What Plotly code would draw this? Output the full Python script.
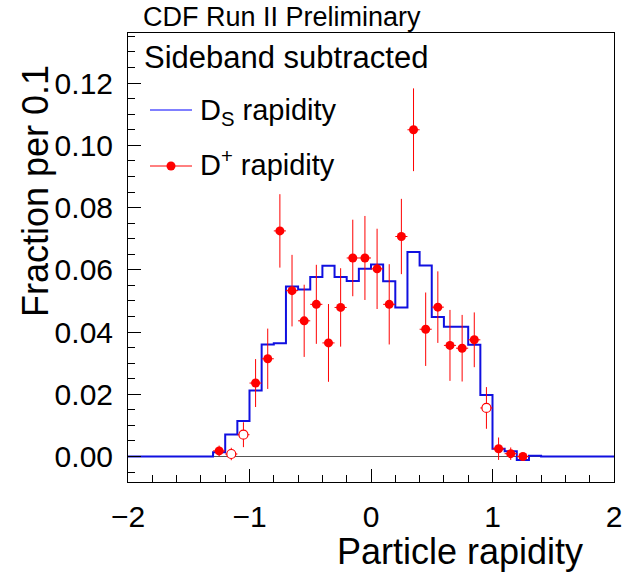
import plotly.graph_objects as go

# ---- data ----
bin_edges = [round(-2.0 + 0.1 * i, 2) for i in range(41)]
ds_values = [0, 0, 0, 0, 0, 0, 0,
             0.0014, 0.0071, 0.0114, 0.0212, 0.0360, 0.0364, 0.0546, 0.0537,
             0.0577, 0.0613, 0.0577, 0.0564, 0.0603, 0.0617, 0.0563, 0.0479,
             0.0657, 0.0614, 0.0448, 0.0417, 0.0417, 0.0359, 0.0198, 0.0025,
             0.0017, -0.0011, 0.0002,
             0, 0, 0, 0, 0, 0]

dp_x = [-1.25, -1.15, -1.05, -0.95, -0.85, -0.75, -0.65, -0.55, -0.45, -0.35,
        -0.25, -0.15, -0.05, 0.05, 0.15, 0.25, 0.35, 0.45, 0.55, 0.65,
        0.75, 0.85, 0.95, 1.05, 1.15, 1.25]
dp_y = [0.0018, 0.0008, 0.0070, 0.0236, 0.0314, 0.0725, 0.0533, 0.0436, 0.0489, 0.0365,
        0.0479, 0.0638, 0.0638, 0.0603, 0.0489, 0.0707, 0.1050, 0.0409, 0.0480, 0.0357,
        0.0348, 0.0375, 0.0156, 0.0025, 0.0009, 0.0000]
dp_err = [0.0017, 0.0020, 0.0040, 0.0077, 0.0097, 0.0118, 0.0115, 0.0116, 0.0127, 0.0125,
          0.0126, 0.0123, 0.0135, 0.0129, 0.0129, 0.0121, 0.0133, 0.0118, 0.0115, 0.0114,
          0.0107, 0.0088, 0.0067, 0.0036, 0.0020, 0.0010]
dp_open = [False, True, True, False, False, False, False, False, False, False,
           False, False, False, False, False, False, False, False, False, False,
           False, False, True, False, False, False]
half_bin = 0.05

x_ticks = [-2, -1, 0, 1, 2]
y_ticks = [0.00, 0.02, 0.04, 0.06, 0.08, 0.10, 0.12]

FONT = "Liberation Sans, Arial, Helvetica, sans-serif"
RED = "#ff0000"
BLUE = "#1010e0"

fig = go.Figure()

# Ds histogram (step)
fig.add_trace(go.Scatter(
    x=bin_edges, y=ds_values + [ds_values[-1]],
    mode="lines", line=dict(color=BLUE, width=2, shape="hv"),
    showlegend=False, hoverinfo="skip"))

# D+ points
for is_open in (False, True):
    xs = [x for x, o in zip(dp_x, dp_open) if o == is_open]
    ys = [y for y, o in zip(dp_y, dp_open) if o == is_open]
    es = [e for e, o in zip(dp_err, dp_open) if o == is_open]
    fig.add_trace(go.Scatter(
        x=xs, y=ys, mode="markers",
        marker=dict(symbol="circle", size=9,
                    color="white" if is_open else RED,
                    line=dict(color=RED, width=1.2 if is_open else 0)),
        error_y=dict(type="data", array=es, color=RED, thickness=1, width=0),
        error_x=dict(type="constant", value=half_bin, color=RED, thickness=1, width=0),
        showlegend=False, hoverinfo="skip"))

# plot-area pixel geometry
L, R, T, B = 128, 614, 33, 482
W, H = R - L, B - T
def px(x):
    return (x - L) / W
def py(y):
    return (B - y) / H

# legend (drawn manually)
fig.add_shape(type="line", xref="paper", yref="paper",
              x0=px(150), x1=px(192), y0=py(110), y1=py(110),
              line=dict(color="#0000ff", width=1))
fig.add_shape(type="line", xref="paper", yref="paper",
              x0=px(150), x1=px(192), y0=py(166), y1=py(166),
              line=dict(color=RED, width=1))
fig.add_shape(type="circle", xref="paper", yref="paper",
              xsizemode="pixel", ysizemode="pixel",
              xanchor=px(171), yanchor=py(166),
              x0=-4.5, x1=4.5, y0=-4.5, y1=4.5,
              fillcolor=RED, line=dict(color=RED, width=0))

annotations = [
    dict(text="CDF Run II Preliminary", x=px(141), y=py(17), xanchor="left",
         yanchor="middle", font=dict(size=27)),
    dict(text="Sideband subtracted", x=px(142), y=py(57), xanchor="left",
         yanchor="middle", font=dict(size=31)),
    dict(text="D<sub>S</sub> rapidity", x=px(198), y=py(112), xanchor="left",
         yanchor="middle", font=dict(size=29)),
    dict(text="D<sup>+</sup> rapidity", x=px(198), y=py(163), xanchor="left",
         yanchor="middle", font=dict(size=29)),
    dict(text="Fraction per 0.1", x=px(35), y=py(63), xanchor="center",
         yanchor="top", textangle=-90, font=dict(size=36)),
    dict(text="Particle rapidity", x=px(585), y=py(551), xanchor="right",
         yanchor="middle", font=dict(size=36)),
]
for a in annotations:
    a.update(xref="paper", yref="paper", showarrow=False)
    a["font"].update(family=FONT, color="black")
fig.update_layout(annotations=annotations)

fig.update_layout(
    width=625, height=574,
    margin=dict(l=L, r=625 - R, t=T, b=574 - B, autoexpand=False),
    paper_bgcolor="white", plot_bgcolor="white",
    font=dict(family=FONT, color="black", size=29),
    showlegend=False,
)
fig.update_xaxes(
    range=[-2, 2], showgrid=False, zeroline=False, automargin=False,
    showline=True, linecolor="black", linewidth=1, mirror=True,
    ticks="inside", ticklen=13, tickwidth=1, tickcolor="black",
    tickvals=x_ticks, ticklabelstandoff=8,
    tickfont=dict(size=30, family=FONT),
    minor=dict(dtick=0.2, ticks="inside", ticklen=7, tickcolor="black", tickwidth=1),
)
fig.update_yaxes(
    range=[-0.0082, 0.1361], showgrid=False, automargin=False,
    zeroline=True, zerolinecolor="#555555", zerolinewidth=1,
    showline=True, linecolor="black", linewidth=1, mirror=True,
    ticks="inside", ticklen=13, tickwidth=1, tickcolor="black",
    tickvals=y_ticks, tickformat=".2f", ticklabelstandoff=8,
    tickfont=dict(size=30, family=FONT),
    minor=dict(dtick=0.005, ticks="inside", ticklen=7, tickcolor="black", tickwidth=1),
)

fig.write_html("out.html")
